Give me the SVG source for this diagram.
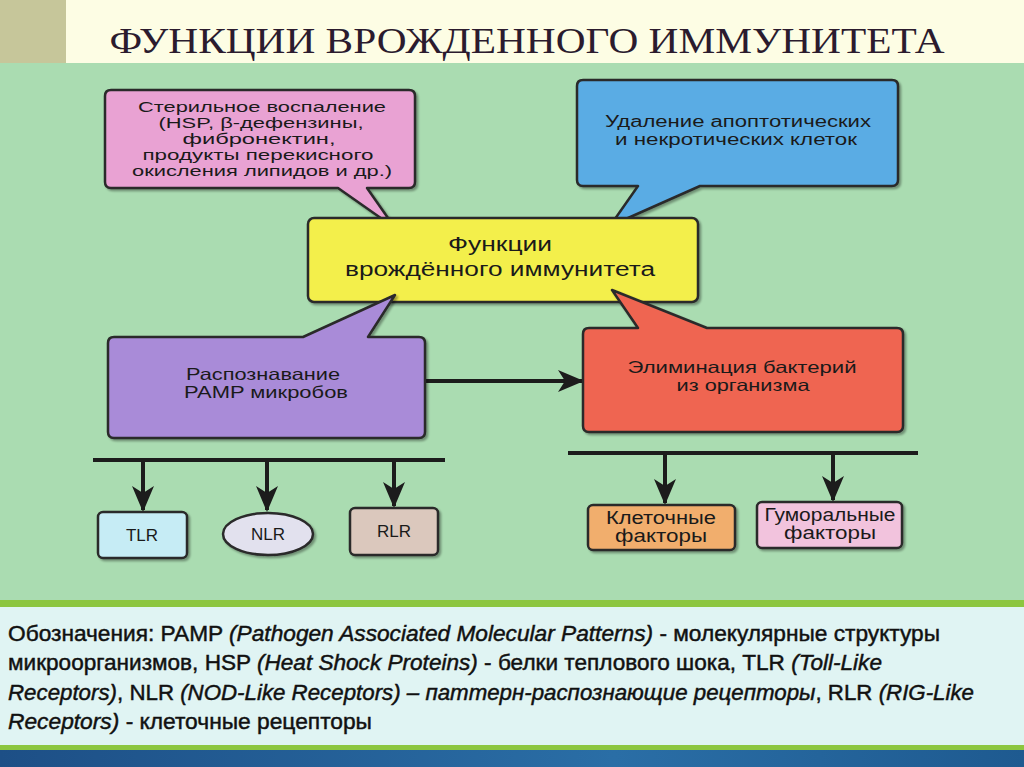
<svg xmlns="http://www.w3.org/2000/svg" width="1024" height="767" viewBox="0 0 1024 767">
<defs>
<style>
.box{stroke:#2a2a2a;stroke-width:2.5;stroke-linejoin:round;filter:url(#sh)}
.t{font-family:"Liberation Sans",Arial,sans-serif;fill:#1a1a1a;text-anchor:middle}
.c{font-size:17px}
.lg{font-family:"Liberation Sans",Arial,sans-serif;font-size:22px;fill:#111;stroke:#111;stroke-width:0.45}
.it{font-style:italic}
.ln{stroke:#1c1c1c;stroke-width:4;fill:none}
</style>
<filter id="sh" x="-10%" y="-10%" width="120%" height="130%">
<feDropShadow dx="2" dy="2" stdDeviation="1.2" flood-color="#000" flood-opacity="0.35"/>
</filter>
<marker id="ah" viewBox="0 -12 26 24" refX="24" refY="0" markerWidth="26" markerHeight="24" markerUnits="userSpaceOnUse" orient="auto">
<path d="M0,-11 L26,0 L0,11 L7,0 Z" fill="#1c1c1c"/>
</marker>
<linearGradient id="bl" x1="0" y1="0" x2="1" y2="0">
<stop offset="0" stop-color="#1d4f86"/>
<stop offset="0.6" stop-color="#2a6ea6"/>
<stop offset="1" stop-color="#1e5a90"/>
</linearGradient>
</defs>

<!-- background -->
<rect x="0" y="0" width="1024" height="767" fill="#aadcb1"/>
<rect x="0" y="0" width="1024" height="63" fill="#fdfde4"/>
<rect x="0" y="0" width="66" height="63" fill="#c6c69a"/>
<rect x="0" y="600" width="1024" height="150" fill="#8cc63f"/>
<rect x="0" y="607" width="1024" height="138" fill="#e0f4f3"/>
<rect x="0" y="750" width="1024" height="17" fill="url(#bl)"/>

<text x="527" y="53" font-family="'Liberation Serif','Times New Roman',serif" font-size="35" fill="#2b1b2e" textLength="835" lengthAdjust="spacingAndGlyphs" text-anchor="middle">ФУНКЦИИ ВРОЖДЕННОГО ИММУНИТЕТА</text>

<g id="connectors">
<line class="ln" x1="93" y1="460" x2="445" y2="460"/>
<line class="ln" x1="143" y1="460" x2="143" y2="510" marker-end="url(#ah)"/>
<line class="ln" x1="267" y1="460" x2="267" y2="510" marker-end="url(#ah)"/>
<line class="ln" x1="394" y1="460" x2="394" y2="506" marker-end="url(#ah)"/>
<line class="ln" x1="568" y1="453" x2="918" y2="453"/>
<line class="ln" x1="665" y1="453" x2="665" y2="503" marker-end="url(#ah)"/>
<line class="ln" x1="833" y1="453" x2="833" y2="500" marker-end="url(#ah)"/>
<line class="ln" x1="426" y1="381" x2="582" y2="381" marker-end="url(#ah)"/>
</g>

<g id="sterile">
<path class="box" fill="#e9a2d3" d="M111,90 H409 Q415,90 415,96 V182 Q415,188 409,188 H367 L395,228 L338,188 H111 Q105,188 105,182 V96 Q105,90 111,90 Z"/>
<text class="t" font-size="15"><tspan x="262" y="112" textLength="248" lengthAdjust="spacingAndGlyphs">Стерильное воспаление</tspan><tspan x="261" y="128" textLength="205" lengthAdjust="spacingAndGlyphs">(HSP, β-дефензины,</tspan><tspan x="259" y="144" textLength="153" lengthAdjust="spacingAndGlyphs">фибронектин,</tspan><tspan x="258" y="160" textLength="231" lengthAdjust="spacingAndGlyphs">продукты перекисного</tspan><tspan x="262" y="176" textLength="260" lengthAdjust="spacingAndGlyphs">окисления липидов и др.)</tspan></text>
</g>

<g id="removal">
<path class="box" fill="#5aace4" d="M583,80 H892 Q898,80 898,86 V180 Q898,186 892,186 H700 L610,226 L638,186 H583 Q577,186 577,180 V86 Q577,80 583,80 Z"/>
<text class="t" font-size="16"><tspan x="738" y="127" textLength="266" lengthAdjust="spacingAndGlyphs">Удаление апоптотических</tspan><tspan x="736" y="145" textLength="242" lengthAdjust="spacingAndGlyphs">и некротических клеток</tspan></text>
</g>

<g id="functions">
<rect class="box" x="308" y="218" width="390" height="84" rx="6" fill="#f3ef4c"/>
<text class="t" font-size="20"><tspan x="500" y="251" textLength="104" lengthAdjust="spacingAndGlyphs">Функции</tspan><tspan x="500" y="276" textLength="310" lengthAdjust="spacingAndGlyphs">врождённого иммунитета</tspan></text>
</g>

<g id="pamp">
<path class="box" fill="#a98bd8" d="M114,337 H303 L395,295 L368,337 H419 Q425,337 425,343 V432 Q425,438 419,438 H114 Q108,438 108,432 V343 Q108,337 114,337 Z"/>
<text class="t" font-size="16.5"><tspan x="263" y="380" textLength="154" lengthAdjust="spacingAndGlyphs">Распознавание</tspan><tspan x="266" y="398" textLength="164" lengthAdjust="spacingAndGlyphs">PAMP микробов</tspan></text>
</g>

<g id="elimination">
<path class="box" fill="#ef6551" d="M589,328 H638 L612,290 L707,328 H897 Q903,328 903,334 V426 Q903,432 897,432 H589 Q583,432 583,426 V334 Q583,328 589,328 Z"/>
<text class="t" font-size="16.5"><tspan x="742" y="373" textLength="229" lengthAdjust="spacingAndGlyphs">Элиминация бактерий</tspan><tspan x="743" y="391" textLength="133" lengthAdjust="spacingAndGlyphs">из организма</tspan></text>
</g>

<g id="tlr">
<rect class="box" x="98" y="512" width="89" height="46" rx="5" fill="#c6ecf5"/>
<text class="t c" x="142" y="541">TLR</text>
</g>
<g id="nlr">
<ellipse class="box" cx="268" cy="534" rx="45" ry="21" fill="#e2e1ee"/>
<text class="t c" x="268" y="540">NLR</text>
</g>
<g id="rlr">
<rect class="box" x="350" y="508" width="88" height="47" rx="5" fill="#dbc8bd"/>
<text class="t c" x="394" y="537">RLR</text>
</g>

<g id="cellular">
<rect class="box" x="588" y="505" width="147" height="45" rx="5" fill="#f1ae6d"/>
<text class="t" font-size="17.5"><tspan x="661" y="524" textLength="110" lengthAdjust="spacingAndGlyphs">Клеточные</tspan><tspan x="661" y="542" textLength="92" lengthAdjust="spacingAndGlyphs">факторы</tspan></text>
</g>
<g id="humoral">
<rect class="box" x="757" y="502" width="145" height="46" rx="5" fill="#f2c3dd"/>
<text class="t" font-size="17.5"><tspan x="830" y="521" textLength="131" lengthAdjust="spacingAndGlyphs">Гуморальные</tspan><tspan x="830" y="539" textLength="92" lengthAdjust="spacingAndGlyphs">факторы</tspan></text>
</g>

<g id="legend">
<text class="lg" x="8" y="641" textLength="932" lengthAdjust="spacingAndGlyphs">Обозначения: PAMP <tspan class="it">(Pathogen Associated Molecular Patterns)</tspan> - молекулярные структуры</text>
<text class="lg" x="8" y="670" textLength="874" lengthAdjust="spacingAndGlyphs">микроорганизмов, HSP <tspan class="it">(Heat Shock Proteins)</tspan> - белки теплового шока, TLR <tspan class="it">(Toll-Like</tspan></text>
<text class="lg" x="8" y="700" textLength="966" lengthAdjust="spacingAndGlyphs"><tspan class="it">Receptors)</tspan>, NLR <tspan class="it">(NOD-Like Receptors) – паттерн-распознающие рецепторы</tspan>, RLR <tspan class="it">(RIG-Like</tspan></text>
<text class="lg" x="8" y="729" textLength="364" lengthAdjust="spacingAndGlyphs"><tspan class="it">Receptors)</tspan> - клеточные рецепторы</text>
</g>
</svg>
